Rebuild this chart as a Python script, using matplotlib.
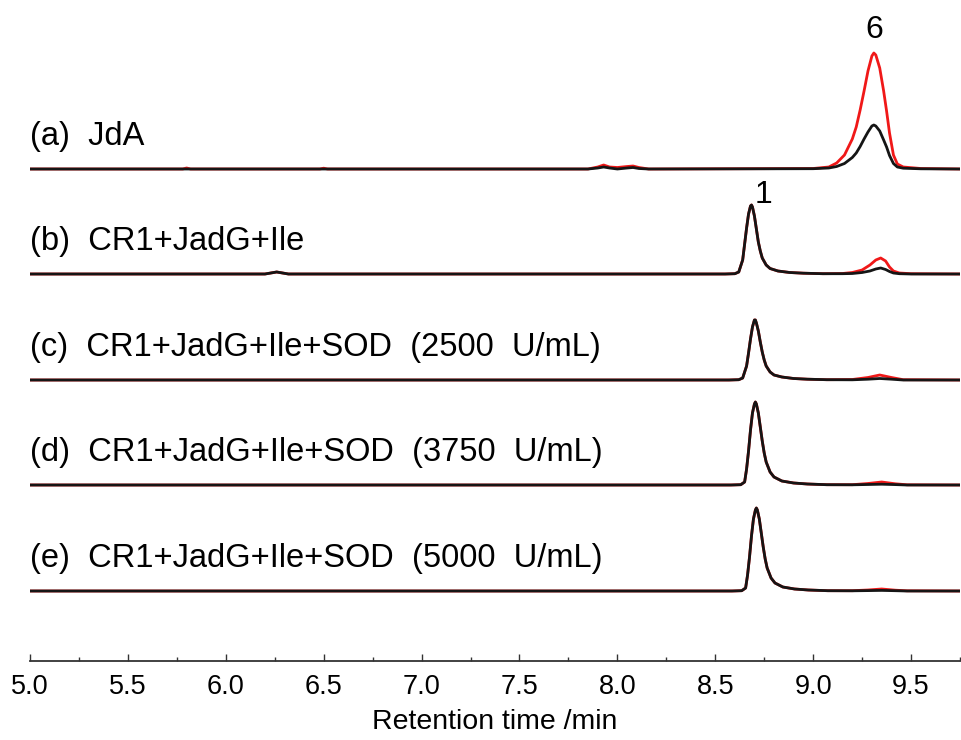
import matplotlib
matplotlib.use("Agg")
import matplotlib.pyplot as plt
from matplotlib.ticker import MultipleLocator

plt.rcParams['font.family'] = ['Liberation Sans', 'DejaVu Sans']

# Retention time (min) and detector response (arbitrary units)
a_time = [5.0, 5.78, 5.80, 5.82, 6.48, 6.50, 6.52, 7.85, 7.90, 7.93, 7.96, 8.00, 8.05, 8.08, 8.11, 8.16,
          9.00, 9.08, 9.12, 9.16, 9.20, 9.22, 9.24, 9.26, 9.28, 9.30, 9.31, 9.32, 9.34, 9.36, 9.375,
          9.39, 9.41, 9.43, 9.46, 9.55, 9.75]
a_red = [0, 0, 1, 0, 0, 0.8, 0, 0, 2, 4, 2, 1.5, 2.5, 3, 1.5, 0,
         0.5, 2, 6, 14, 30, 42, 59, 78, 98, 113, 116, 114, 101, 78, 58,
         36, 14, 5, 2, 0.5, 0]
a_black = [0, 0, 0, 0, 0, 0, 0, 0, 1, 2, 1, 0, 1, 1.5, 0.5, 0,
           0.3, 1, 2.5, 5.5, 11.5, 16, 22.5, 30, 37, 43, 44, 43, 38, 29, 22,
           13.5, 5.5, 2, 0.8, 0.2, 0]

b_time = [5.0, 6.20, 6.26, 6.32, 8.55, 8.60, 8.62, 8.64, 8.65, 8.66, 8.67, 8.68, 8.685, 8.69, 8.70,
          8.71, 8.72, 8.73, 8.74, 8.76, 8.78, 8.82, 8.88, 8.95, 9.05, 9.15, 9.20, 9.25, 9.29, 9.32,
          9.345, 9.37, 9.39, 9.41, 9.44, 9.50, 9.75]
b_red = [0, 0, 2, 0, 0, 0.3, 2, 14, 30, 46, 60, 68, 69, 67, 58,
         45, 32, 23, 16, 9, 5.5, 3, 1.5, 0.8, 0.3, 0.5, 1.5, 4, 9, 14,
         16, 13, 7, 3, 1, 0.3, 0]
b_black = [0, 0, 2, 0, 0, 0.3, 2, 14, 30, 46, 60, 68, 69, 67, 58,
           45, 32, 23, 16, 9, 5.5, 3, 1.5, 0.8, 0.3, 0.3, 0.5, 1.5, 3, 5,
           6, 4.5, 2.5, 1, 0.3, 0, 0]

c_time = [5.0, 8.57, 8.62, 8.64, 8.66, 8.67, 8.68, 8.69, 8.70, 8.705, 8.71, 8.72, 8.73, 8.74,
          8.75, 8.76, 8.78, 8.80, 8.84, 8.90, 8.97, 9.07, 9.20, 9.28, 9.34, 9.40, 9.46, 9.75]
c_red = [0, 0, 0.3, 2, 14, 27, 41, 53, 60, 60, 57, 49, 38, 28,
         20, 14, 8, 5, 3, 1.5, 0.8, 0.3, 0.5, 2.5, 5, 2.5, 0.3, 0]
c_black = [0, 0, 0.3, 2, 14, 27, 41, 53, 60, 60, 57, 49, 38, 28,
           20, 14, 8, 5, 3, 1.5, 0.8, 0.3, 0.2, 0.8, 1.5, 0.8, 0, 0]

d_time = [5.0, 8.58, 8.63, 8.65, 8.66, 8.67, 8.68, 8.69, 8.70, 8.705, 8.71, 8.72, 8.73, 8.74,
          8.75, 8.76, 8.78, 8.80, 8.84, 8.90, 8.97, 9.07, 9.20, 9.28, 9.35, 9.42, 9.48, 9.75]
d_red = [0, 0, 0.3, 3, 16, 34, 55, 72, 81, 83, 81, 72, 58, 44,
         32, 23, 13, 8, 4, 2, 1, 0.3, 0.3, 1.5, 3, 1.2, 0.2, 0]
d_black = [0, 0, 0.3, 3, 16, 34, 55, 72, 81, 83, 81, 72, 58, 44,
           32, 23, 13, 8, 4, 2, 1, 0.3, 0.2, 0.5, 0.8, 0.4, 0, 0]

e_time = [5.0, 8.585, 8.635, 8.655, 8.665, 8.675, 8.685, 8.695, 8.705, 8.71, 8.715, 8.725, 8.735, 8.745,
          8.755, 8.765, 8.785, 8.805, 8.845, 8.905, 8.975, 9.075, 9.20, 9.28, 9.35, 9.42, 9.48, 9.75]
e_red = [0, 0, 0.3, 3, 16, 34, 55, 72, 81, 83, 81, 72, 58, 44,
         32, 23, 13, 8, 4, 2, 1, 0.3, 0.3, 1, 2, 0.8, 0.2, 0]
e_black = [0, 0, 0.3, 3, 16, 34, 55, 72, 81, 83, 81, 72, 58, 44,
           32, 23, 13, 8, 4, 2, 1, 0.3, 0.2, 0.4, 0.6, 0.3, 0, 0]

sample_labels = ['(a)  JdA',
                 '(b)  CR1+JadG+Ile',
                 '(c)  CR1+JadG+Ile+SOD  (2500  U/mL)',
                 '(d)  CR1+JadG+Ile+SOD  (3750  U/mL)',
                 '(e)  CR1+JadG+Ile+SOD  (5000  U/mL)']

traces = [(a_time, a_red, a_black), (b_time, b_red, b_black), (c_time, c_red, c_black),
          (d_time, d_red, d_black), (e_time, e_red, e_black)]

# vertical stacking of the traces
offsets = [492, 387, 281, 176, 70]

fig = plt.figure(figsize=(9.61, 7.40), dpi=100)
ax = fig.add_axes([30 / 961, 79 / 740, 930 / 961, 661 / 740])

for (t, red, black), off, lab in zip(traces, offsets, sample_labels):
    ax.plot(t, [v + off for v in red], color='#f01818', lw=2.0, solid_joinstyle='round')
    ax.plot(t, [v + off for v in black], color='#151515', lw=2.0, solid_joinstyle='round')
    ax.text(5.0, off + 24, lab, fontsize=23.5, ha='left', va='baseline', color='#000000')

# peak numbers
ax.text(9.31, 631, '6', fontsize=23, ha='center', va='center', color='#000000')
ax.text(8.745, 466, '1', fontsize=23, ha='center', va='center', color='#000000')

ax.set_xlim(5.0, 9.75)
ax.set_ylim(0, 661)
ax.xaxis.set_major_locator(MultipleLocator(0.5))
ax.xaxis.set_minor_locator(MultipleLocator(0.25))
ax.tick_params(axis='x', which='major', direction='in', length=5, width=1.0, labelsize=19.5, pad=9,
               color='#333333')
ax.tick_params(axis='x', which='minor', direction='in', length=3, width=1.0, color='#333333')
ax.set_yticks([])
for side in ['left', 'right', 'top']:
    ax.spines[side].set_visible(False)
ax.spines['bottom'].set_linewidth(1.3)
ax.spines['bottom'].set_color('#333333')
ax.set_xlabel('Retention time /min', fontsize=20.5, labelpad=7)

fig.savefig('out.png', dpi=100)
